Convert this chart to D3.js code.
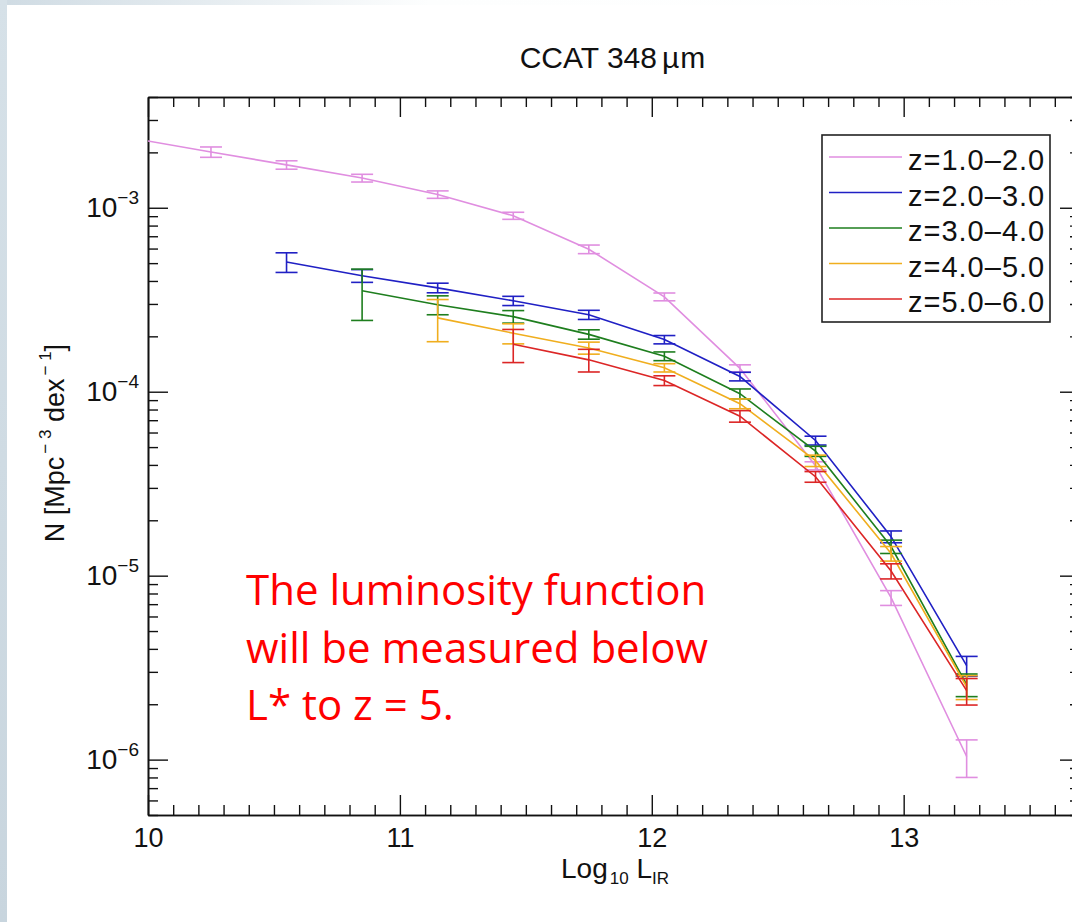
<!DOCTYPE html>
<html>
<head>
<meta charset="utf-8">
<script src="https://cdn.jsdelivr.net/npm/d3@7"></script>
<style>
  html, body { margin: 0; padding: 0; background: #fff; }
  svg { display: block; }
  text { font-family: "Liberation Sans", Arial, Helvetica, sans-serif; fill: #111; }
</style>
</head>
<body>
<svg id="chart" width="1072" height="922"></svg>
<script>
// Luminosity bins (log10 L_IR) shared by all redshift slices
const logL = [9.95, 10.25, 10.55, 10.85, 11.15, 11.45, 11.75, 12.05, 12.35, 12.65, 12.95, 13.25];

// Space densities N [Mpc^-3 dex^-1] and 1-sigma errors per redshift slice
const zLabels = ["z=1.0\u20132.0", "z=2.0\u20133.0", "z=3.0\u20134.0", "z=4.0\u20135.0", "z=5.0\u20136.0"];
const zColors = ["#e08ee0", "#2020c4", "#1e7e1e", "#f0ae1e", "#dc2626"];

const nZ1 = [2.37e-3, 2.01e-3, 1.71e-3, 1.45e-3, 1.18e-3, 9.05e-4, 5.95e-4, 3.28e-4, 1.34e-4, 3.96e-5, 7.59e-6, 1.04e-6];
const eZ1 = [1.4e-4, 1.3e-4, 0.9e-4, 0.7e-4, 0.55e-4, 0.4e-4, 0.32e-4, 0.16e-4, 0.06e-4, 0.2e-5, 0.7e-6, 0.24e-6];

const nZ2 = [null, null, 5.07e-4, 4.27e-4, 3.67e-4, 3.12e-4, 2.62e-4, 1.92e-4, 1.21e-4, 5.43e-5, 1.63e-5, 3.24e-6];
const eZ2 = [null, null, 0.62e-4, 0.34e-4, 0.22e-4, 0.18e-4, 0.15e-4, 0.10e-4, 0.065e-4, 0.3e-5, 0.12e-5, 0.4e-6];

const nZ3 = [null, null, null, 3.54e-4, 2.97e-4, 2.56e-4, 2.05e-4, 1.56e-4, 9.75e-5, 4.75e-5, 1.44e-5, 2.56e-6];
const eZ3 = [null, null, null, 1.1e-4, 0.35e-4, 0.2e-4, 0.12e-4, 0.085e-4, 0.6e-5, 0.3e-5, 0.12e-5, 0.36e-6];

const nZ4 = [null, null, null, null, 2.52e-4, 2.08e-4, 1.73e-4, 1.35e-4, 8.61e-5, 4.22e-5, 1.32e-5, 2.49e-6];
const eZ4 = [null, null, null, null, 0.65e-4, 0.26e-4, 0.13e-4, 0.07e-4, 0.53e-5, 0.3e-5, 0.12e-5, 0.37e-6];

const nZ5 = [null, null, null, null, null, 1.81e-4, 1.49e-4, 1.15e-4, 7.36e-5, 3.45e-5, 1.06e-5, 2.37e-6];
const eZ5 = [null, null, null, null, null, 0.37e-4, 0.21e-4, 0.07e-4, 0.53e-5, 0.23e-5, 0.1e-5, 0.39e-6];

const xMajor = [10, 11, 12, 13];
const yMajor = [1e-3, 1e-4, 1e-5, 1e-6];
const yExponents = ["\u22123", "\u22124", "\u22125", "\u22126"];

const noteLines = ["The luminosity function", "will be measured below", "L* to z = 5."];

// ---------------------------------------------------------------------------
const values = [nZ1, nZ2, nZ3, nZ4, nZ5];
const errors = [eZ1, eZ2, eZ3, eZ4, eZ5];
const series = zLabels.map((label, i) => ({
  label,
  color: zColors[i],
  points: logL.map((L, j) => ({ L, n: values[i][j], e: errors[i][j] })).filter(p => p.n != null)
}));

const svg = d3.select("#chart");
const W = 1072, H = 922;
const margin = { left: 148, right: 1080, top: 97, bottom: 815 };

// slide backdrop: pale blue edge strips
const defs = svg.append("defs");
const gTop = defs.append("linearGradient").attr("id", "topEdge").attr("x1", 0).attr("x2", 1).attr("y1", 0).attr("y2", 0);
gTop.append("stop").attr("offset", 0).attr("stop-color", "#cfdbe3");
gTop.append("stop").attr("offset", 0.4).attr("stop-color", "#fdfefe");
gTop.append("stop").attr("offset", 1).attr("stop-color", "#ffffff");
const gLeft = defs.append("linearGradient").attr("id", "leftEdge").attr("x1", 0).attr("x2", 0).attr("y1", 0).attr("y2", 1);
gLeft.append("stop").attr("offset", 0).attr("stop-color", "#d6e1e8");
gLeft.append("stop").attr("offset", 1).attr("stop-color", "#c8d5de");
svg.append("rect").attr("x", 0).attr("y", 0).attr("width", W).attr("height", H).attr("fill", "#fff");
svg.append("rect").attr("x", 0).attr("y", 0).attr("width", W).attr("height", 5).attr("fill", "url(#topEdge)");
svg.append("rect").attr("x", 0).attr("y", 0).attr("width", 7).attr("height", H).attr("fill", "url(#leftEdge)");

const x = d3.scaleLinear().domain([10, 13.7]).range([margin.left, margin.right]);
const y = d3.scaleLog().domain([5e-7, 4e-3]).range([margin.bottom, margin.top]);

defs.append("clipPath").attr("id", "plotClip")
  .append("rect")
  .attr("x", margin.left).attr("y", margin.top)
  .attr("width", margin.right - margin.left).attr("height", margin.bottom - margin.top);

// minor tick positions
const xMinor = d3.range(10.1, 13.7, 0.1).map(v => +v.toFixed(1)).filter(v => !xMajor.includes(v));
const yMinor = [];
for (let k = -7; k <= -3; k++) {
  for (let m = 2; m <= 9; m++) {
    const v = m * Math.pow(10, k);
    if (v >= 5e-7 && v <= 4e-3) yMinor.push(v);
  }
}

const axisStyle = g => {
  g.selectAll("path.domain").attr("stroke", "#111").attr("stroke-width", 1.6);
  g.selectAll(".tick line").attr("stroke", "#111").attr("stroke-width", 1.4);
};

// bottom axis
svg.append("g").attr("transform", `translate(0,${margin.bottom})`)
  .call(d3.axisBottom(x).tickValues(xMinor).tickSize(-10).tickFormat("").tickSizeOuter(0)).call(axisStyle);
const xAxisB = svg.append("g").attr("transform", `translate(0,${margin.bottom})`)
  .call(d3.axisBottom(x).tickValues(xMajor).tickSize(-20).tickPadding(13).tickFormat(d3.format("d")).tickSizeOuter(0))
  .call(axisStyle);
xAxisB.selectAll(".tick text").attr("font-size", 27).attr("fill", "#111")
  .attr("font-family", "'Liberation Sans', Arial, sans-serif");

// top axis
svg.append("g").attr("transform", `translate(0,${margin.top})`)
  .call(d3.axisTop(x).tickValues(xMinor).tickSize(-10).tickFormat("").tickSizeOuter(0)).call(axisStyle);
svg.append("g").attr("transform", `translate(0,${margin.top})`)
  .call(d3.axisTop(x).tickValues(xMajor).tickSize(-20).tickFormat("").tickSizeOuter(0)).call(axisStyle);

// left axis
svg.append("g").attr("transform", `translate(${margin.left},0)`)
  .call(d3.axisLeft(y).tickValues(yMinor).tickSize(-10).tickFormat("").tickSizeOuter(0)).call(axisStyle);
const yAxisL = svg.append("g").attr("transform", `translate(${margin.left},0)`)
  .call(d3.axisLeft(y).tickValues(yMajor).tickSize(-20).tickPadding(10).tickFormat("").tickSizeOuter(0))
  .call(axisStyle);
yAxisL.selectAll(".tick").each(function (d) {
  const t = d3.select(this).append("text")
    .attr("x", -9).attr("y", 9).attr("text-anchor", "end")
    .attr("font-size", 28).attr("fill", "#111");
  t.append("tspan").text("10");
  t.append("tspan").attr("font-size", 19).attr("dy", -13).text(yExponents[yMajor.indexOf(d)]);
});

// right axis
svg.append("g").attr("transform", `translate(${margin.right},0)`)
  .call(d3.axisRight(y).tickValues(yMinor).tickSize(-10).tickFormat("").tickSizeOuter(0)).call(axisStyle);
svg.append("g").attr("transform", `translate(${margin.right},0)`)
  .call(d3.axisRight(y).tickValues(yMajor).tickSize(-20).tickFormat("").tickSizeOuter(0)).call(axisStyle);

// data: lines with error bars
const plot = svg.append("g").attr("clip-path", "url(#plotClip)");
const line = d3.line().x(p => x(p.L)).y(p => y(p.n));
const capHalf = 11;

series.forEach(s => {
  const g = plot.append("g");
  g.append("path").datum(s.points)
    .attr("d", line).attr("fill", "none")
    .attr("stroke", s.color).attr("stroke-width", 1.6);
  const eb = g.selectAll("g.eb").data(s.points).join("g").attr("class", "eb")
    .attr("stroke", s.color).attr("stroke-width", 1.6);
  eb.append("line")
    .attr("x1", p => x(p.L)).attr("x2", p => x(p.L))
    .attr("y1", p => y(p.n + p.e)).attr("y2", p => y(p.n - p.e));
  eb.append("line")
    .attr("x1", p => x(p.L) - capHalf).attr("x2", p => x(p.L) + capHalf)
    .attr("y1", p => y(p.n + p.e)).attr("y2", p => y(p.n + p.e));
  eb.append("line")
    .attr("x1", p => x(p.L) - capHalf).attr("x2", p => x(p.L) + capHalf)
    .attr("y1", p => y(p.n - p.e)).attr("y2", p => y(p.n - p.e));
});

// title
const title = svg.append("text").attr("x", 613).attr("y", 68)
  .attr("text-anchor", "middle").attr("font-size", 30);
title.append("tspan").text("CCAT 348");
title.append("tspan").attr("dx", 5).attr("letter-spacing", 1).text("\u00b5m");

// x-axis label
const xl = svg.append("text").attr("x", 615).attr("y", 878)
  .attr("text-anchor", "middle").attr("font-size", 28);
xl.append("tspan").text("Log");
xl.append("tspan").attr("font-size", 17).attr("dy", 6).attr("dx", 2).text("10");
xl.append("tspan").attr("dy", -6).text(" L");
xl.append("tspan").attr("font-size", 17).attr("dy", 6).text("IR");

// y-axis label
const yl = svg.append("text")
  .attr("transform", "translate(64,443) rotate(-90)")
  .attr("text-anchor", "middle").attr("font-size", 27);
yl.append("tspan").text("N [Mpc");
yl.append("tspan").attr("font-size", 17).attr("dy", -13).attr("dx", 3).text("\u2212 3");
yl.append("tspan").attr("dy", 13).text(" dex");
yl.append("tspan").attr("font-size", 17).attr("dy", -13).attr("dx", 3).text("\u2212 1");
yl.append("tspan").attr("dy", 13).text("]");

// legend
const legend = svg.append("g");
legend.append("rect").attr("x", 822).attr("y", 135).attr("width", 228).attr("height", 187)
  .attr("fill", "#fff").attr("stroke", "#222").attr("stroke-width", 1.6);
const rowY = d3.scalePoint().domain(zLabels).range([157, 299]);
const rows = legend.selectAll("g.row").data(series).join("g").attr("class", "row")
  .attr("transform", s => `translate(0,${rowY(s.label)})`);
rows.append("line").attr("x1", 829).attr("x2", 902).attr("y1", 0).attr("y2", 0)
  .attr("stroke", s => s.color).attr("stroke-width", 1.6);
rows.append("text").attr("x", 908).attr("y", 13).attr("font-size", 29)
  .attr("letter-spacing", 1).text(s => s.label);

// annotation
const note = svg.append("text").attr("x", 246).attr("y", 605)
  .attr("font-size", 42)
  .style("font-family", "'Open Sans', Lato, sans-serif")
  .style("font-variant-ligatures", "none")
  .style("fill", "#ff0000");
note.selectAll("tspan").data(noteLines).join("tspan")
  .attr("x", 246).attr("y", (d, i) => 605 + i * 57.5).text(d => d);
</script>
</body>
</html>
